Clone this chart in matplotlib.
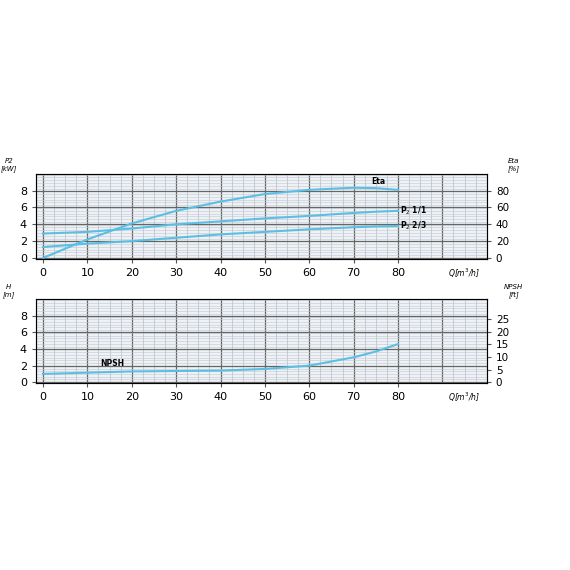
import matplotlib.pyplot as plt
import numpy as np

q = [0, 10, 20, 30, 40, 50, 60, 70, 75, 80]
eta = [0, 2.2, 4.1, 5.6, 6.7, 7.6, 8.1, 8.35, 8.3, 8.1]
p2_full = [2.9, 3.1, 3.5, 4.0, 4.35, 4.7, 5.0, 5.35, 5.5, 5.6]
p2_23 = [1.3, 1.7, 2.0, 2.4, 2.8, 3.1, 3.4, 3.65, 3.75, 3.8]
npsh = [1.0, 1.15, 1.3, 1.35, 1.4, 1.6, 2.0, 3.0, 3.7, 4.6]

col = '#5bbfe3'
fig = plt.figure(figsize=(5.7, 5.7), dpi=100)


def panel(rect, ylab):
    ax = fig.add_axes(rect)
    ax.set_facecolor('#eef2f6')
    ax.set_xlim(-1.6, 100)
    ax.set_ylim(-0.1, 10)
    for x in np.arange(0, 100, 2.5):
        ax.axvline(x, color='#666666' if x % 10 == 0 else '#b8bec6',
                   lw=0.9 if x % 10 == 0 else 0.5, zorder=1)
    for y in np.arange(0, 10, 0.33):
        ax.axhline(y, color='#c2c8d0', lw=0.4, zorder=1)
    for y in range(0, 10, 2):
        ax.axhline(y, color='#666666', lw=0.9, zorder=1)
    ax.set_xticks(range(0, 90, 10))
    ax.set_yticks([0, 2, 4, 6, 8])
    ax.tick_params(labelsize=8, length=3, color='#555555')
    for s in ax.spines.values():
        s.set_color('#555555')
    ax.text(-0.06, 1.02, ylab, transform=ax.transAxes, fontsize=5,
            style='italic', ha='center', va='bottom')
    ax.text(0.985, -0.09, 'Q[m$^3$/h]', transform=ax.transAxes, fontsize=5.5,
            style='italic', ha='right', va='top')
    return ax


ax1 = panel([0.063, 0.546, 0.791, 0.149], 'P2\n[kW]')
ax1.plot(q, eta, color=col, lw=1.5, zorder=3)
ax1.plot(q, p2_full, color=col, lw=1.5, zorder=3)
ax1.plot(q, p2_23, color=col, lw=1.5, zorder=3)
ax1.text(74, 8.5, 'Eta', fontsize=5.5, va='bottom', weight='bold')
ax1.text(80.5, 5.6, 'P$_2$ 1/1', fontsize=5.5, va='center', weight='bold')
ax1.text(80.5, 3.8, 'P$_2$ 2/3', fontsize=5.5, va='center', weight='bold')
r1 = ax1.twinx()
r1.set_ylim(-1, 100)
r1.set_yticks([0, 20, 40, 60, 80])
r1.tick_params(labelsize=7.5, length=3, color='#555555')
r1.text(1.06, 1.02, 'Eta\n[%]', transform=r1.transAxes, fontsize=5,
        style='italic', ha='center', va='bottom')

ax2 = panel([0.063, 0.328, 0.791, 0.147], 'H\n[m]')
ax2.plot(q, npsh, color=col, lw=1.5, zorder=3)
ax2.text(13, 1.7, 'NPSH', fontsize=5.5, va='bottom', weight='bold')
r2 = ax2.twinx()
r2.set_ylim(-0.1 * 3.2808, 10 * 3.2808)
r2.set_yticks([0, 5, 10, 15, 20, 25])
r2.tick_params(labelsize=7.5, length=3, color='#555555')
r2.text(1.06, 1.02, 'NPSH\n[ft]', transform=r2.transAxes, fontsize=5,
        style='italic', ha='center', va='bottom')

fig.savefig('out.png', dpi=100)
